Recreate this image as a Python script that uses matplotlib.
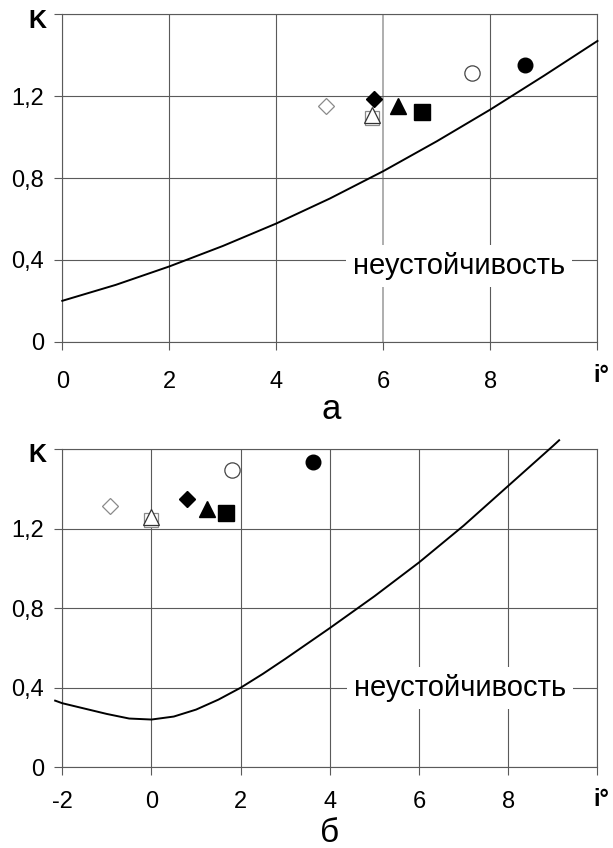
import matplotlib
matplotlib.use("Agg")
import matplotlib.pyplot as plt

plt.rcParams['font.family'] = ['Liberation Sans', 'DejaVu Sans']

# ---------------- data ----------------
# panel a
a_curve_x = [0, 1, 2, 3, 4, 5, 6, 7, 8, 9, 10]
a_curve_y = [0.20, 0.278, 0.368, 0.468, 0.578, 0.70, 0.834, 0.98, 1.135, 1.30, 1.47]
a_open_diamond = (4.92, 1.153)
a_fill_diamond = (5.82, 1.184)
a_open_square = (5.78, 1.094)
a_open_triangle = (5.78, 1.11)
a_fill_triangle = (6.27, 1.151)
a_fill_square = (6.72, 1.122)
a_open_circle = (7.66, 1.311)
a_fill_circle = (8.65, 1.351)

# panel б
b_curve_x = [-2.16, -2, -1.5, -1, -0.5, 0, 0.5, 1, 1.5, 2, 2.5, 3, 4, 5, 6, 7, 8, 9, 9.14]
b_curve_y = [0.335, 0.322, 0.295, 0.268, 0.245, 0.24, 0.255, 0.29, 0.34, 0.40, 0.47,
             0.545, 0.70, 0.86, 1.03, 1.215, 1.415, 1.615, 1.644]
b_open_diamond = (-0.93, 1.315)
b_fill_diamond = (0.79, 1.347)
b_open_square = (0.0, 1.245)
b_open_triangle = (0.0, 1.258)
b_fill_triangle = (1.25, 1.30)
b_fill_square = (1.68, 1.276)
b_open_circle = (1.80, 1.494)
b_fill_circle = (3.63, 1.536)

y_ticks = [0, 0.4, 0.8, 1.2, 1.6]
y_ticklabels = ['0', '0,4', '0,8', '1,2', '']
a_x_ticks = [0, 2, 4, 6, 8, 10]
a_x_ticklabels = ['0', '2', '4', '6', '8', '']
b_x_ticks = [-2, 0, 2, 4, 6, 8, 10]
b_x_ticklabels = ['-2', '0', '2', '4', '6', '8', '']
annot_text = 'неустойчивость'

GRID = '#5a5a5a'

fig = plt.figure(figsize=(6.13, 8.48), dpi=100)
ax1 = fig.add_axes([0.1016, 0.5970, 0.8731, 0.3861])
ax2 = fig.add_axes([0.1016, 0.0952, 0.8731, 0.3753])


def style(ax, xt, xtl, xlim, xpad):
    ax.set_xlim(*xlim)
    ax.set_ylim(0, 1.6)
    ax.set_xticks(xt)
    ax.set_xticklabels(xtl)
    ax.set_yticks(y_ticks)
    ax.set_yticklabels(y_ticklabels)
    ax.tick_params(axis='both', direction='out', length=6, width=0.8, color=GRID,
                   labelsize=17)
    ax.tick_params(axis='x', pad=xpad)
    ax.tick_params(axis='y', pad=7)
    for s in ax.spines.values():
        s.set_color(GRID)
        s.set_linewidth(0.8)
    ax.grid(True, color=GRID, linewidth=0.8)
    ax.set_axisbelow(True)


def markers(ax, od, fd, osq, otr, ftr, fsq, oc, fc):
    ax.plot(*od, marker='D', ms=8, mfc='white', mec='#8a8a8a', mew=0.9, ls='none', zorder=4)
    ax.plot(*fd, marker='D', ms=8, mfc='black', mec='black', ls='none', zorder=4)
    ax.plot(*osq, marker='s', ms=10.5, mfc='white', mec='#8a8a8a', mew=0.9, ls='none', zorder=4)
    ax.plot(*otr, marker='^', ms=11, mfc='white', mec='#333333', mew=0.9, ls='none', zorder=5)
    ax.plot(*ftr, marker='^', ms=11, mfc='black', mec='black', ls='none', zorder=4)
    ax.plot(*fsq, marker='s', ms=11, mfc='black', mec='black', ls='none', zorder=4)
    ax.plot(*oc, marker='o', ms=11, mfc='white', mec='#444444', mew=0.9, ls='none', zorder=4)
    ax.plot(*fc, marker='o', ms=10.5, mfc='black', mec='black', ls='none', zorder=4)


# panel a
style(ax1, a_x_ticks, a_x_ticklabels, (0, 10), 15)
ax1.get_xgridlines()[3].set_color('#a8a8a8')
ax1.get_xgridlines()[3].set_linewidth(1.3)
ax1.plot(a_curve_x, a_curve_y, color='black', lw=1.4, clip_on=False, zorder=3)
markers(ax1, a_open_diamond, a_fill_diamond, a_open_square, a_open_triangle,
        a_fill_triangle, a_fill_square, a_open_circle, a_fill_circle)
ax1.text(7.41, 0.371, annot_text, fontsize=21, ha='center', va='center', zorder=6,
         bbox=dict(facecolor='white', edgecolor='none', pad=5))

# panel б
style(ax2, b_x_ticks, b_x_ticklabels, (-2, 10), 11)
ax2.plot(b_curve_x, b_curve_y, color='black', lw=1.4, clip_on=False, zorder=3)
markers(ax2, b_open_diamond, b_fill_diamond, b_open_square, b_open_triangle,
        b_fill_triangle, b_fill_square, b_open_circle, b_fill_circle)
ax2.text(6.91, 0.398, annot_text, fontsize=21, ha='center', va='center', zorder=6,
         bbox=dict(facecolor='white', edgecolor='none', pad=5))

# axis letters
fig.text(37.5 / 613, 1 - 21 / 848, 'K', fontsize=18, fontweight='bold', ha='center', va='center')
fig.text(37.5 / 613, 1 - 455 / 848, 'K', fontsize=18, fontweight='bold', ha='center', va='center')
fig.text(601 / 613, 1 - 375 / 848, 'i°', fontsize=17, fontweight='bold', ha='center', va='center')
fig.text(601 / 613, 1 - 800 / 848, 'i°', fontsize=17, fontweight='bold', ha='center', va='center')

# panel letters
fig.text(331 / 613, 1 - 410 / 848, 'а', fontsize=25, ha='center', va='center')
fig.text(330 / 613, 1 - 833 / 848, 'б', fontsize=24, ha='center', va='center')

fig.savefig('out.png', dpi=100, facecolor='white')
